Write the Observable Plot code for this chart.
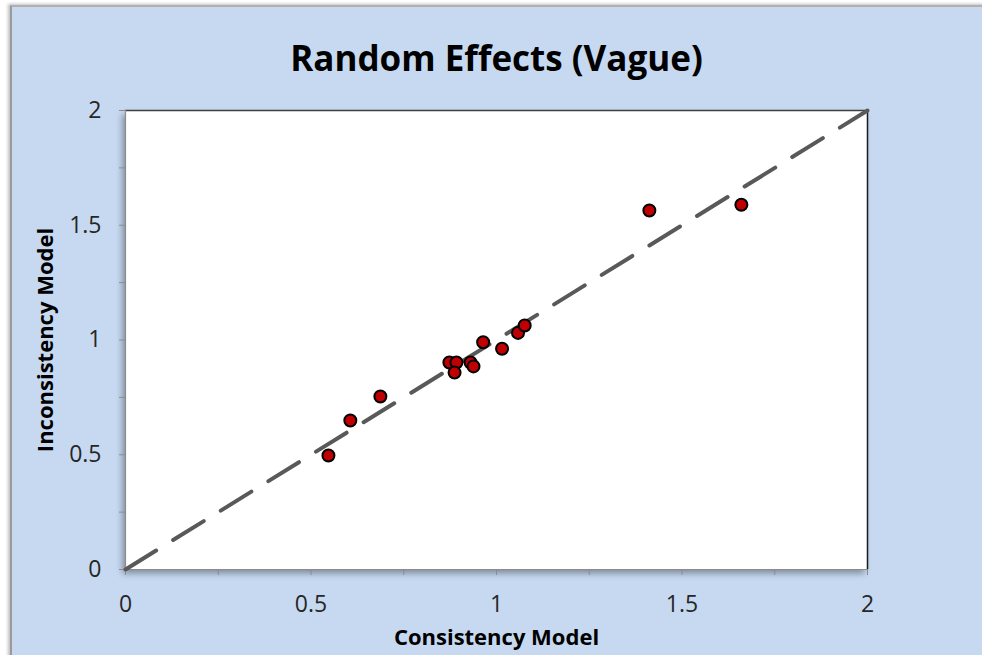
<!DOCTYPE html>
<html>
<head>
<meta charset="utf-8">
<script src="https://cdn.jsdelivr.net/npm/d3@7"></script>
<script src="https://cdn.jsdelivr.net/npm/@observablehq/plot@0.6"></script>
<style>
  html, body { margin: 0; padding: 0; background: #ffffff; }
  #wrap { position: relative; width: 982px; height: 655px; overflow: hidden; }
  #panel { position: absolute; left: 10px; top: 5px; width: 990px; height: 700px;
           background: #c6d9f1; border-left: 2px solid #9a9a9a; border-top: 2px solid #b0b0b0;
           box-shadow: -2px -1px 3px rgba(0,0,0,0.25); }
  #chart { position: absolute; left: 0; top: 0; }
  svg { font-family: "Open Sans", sans-serif; }
</style>
</head>
<body>
<div id="wrap"><div id="panel"></div><div id="chart"></div></div>
<script>
// Data
const consistency   = [0.547, 0.606, 0.687, 0.873, 0.892, 0.887, 0.930, 0.938, 0.964, 1.015, 1.058, 1.076, 1.412, 1.660];
const inconsistency = [0.497, 0.649, 0.754, 0.902, 0.902, 0.858, 0.902, 0.885, 0.990, 0.962, 1.031, 1.063, 1.564, 1.589];
const identityLine  = [0, 2];
const minorTicks    = [0, 0.25, 0.5, 0.75, 1, 1.25, 1.5, 1.75, 2];
const tickLabels    = [0, 0.5, 1, 1.5, 2];
const title  = "Random Effects (Vague)";
const xTitle = "Consistency Model";
const yTitle = "Inconsistency Model";

const points = consistency.map((c, i) => ({c, v: inconsistency[i]}));
const diag = identityLine.map(d => ({c: d, v: d}));
const fmt = d => String(d);

const chart = Plot.plot({
  width: 982,
  height: 655,
  marginLeft: 125,
  marginRight: 115,
  marginTop: 110,
  marginBottom: 86,
  style: {background: "transparent", overflow: "visible"},
  x: {domain: [0, 2], label: null},
  y: {domain: [0, 2], label: null},
  marks: [
    Plot.frame({fill: "white", stroke: null, imageFilter: "drop-shadow(-3px 4px 3px rgba(0,0,0,0.35))"}),
    Plot.ruleX([2], {stroke: "#1a1a1a", strokeWidth: 1.5}),
    Plot.ruleY([2], {stroke: "#404040", strokeWidth: 1.5}),
    Plot.ruleX([0], {stroke: "#8c8c8c", strokeWidth: 1.2}),
    Plot.ruleY([0], {stroke: "#8c8c8c", strokeWidth: 1.2}),
    Plot.axisX({ticks: minorTicks, tickSize: 6, tickFormat: () => "", stroke: "#8c8c8c"}),
    Plot.axisY({ticks: minorTicks, tickSize: 6, tickFormat: () => "", stroke: "#8c8c8c"}),
    Plot.axisX({ticks: tickLabels, tickSize: 0, tickPadding: 26, tickFormat: fmt, fontSize: 23, fill: "#262626"}),
    Plot.axisY({ticks: tickLabels, tickSize: 0, tickPadding: 24, tickFormat: fmt, fontSize: 23, fill: "#262626"}),
    Plot.line(diag, {x: "c", y: "v", stroke: "#595959", strokeWidth: 4, strokeDasharray: "36,20"}),
    Plot.dot(points, {x: "c", y: "v", r: 6, fill: "#c00000", stroke: "#000000", strokeWidth: 2}),
    Plot.text([title], {frameAnchor: "top", dy: -64, text: d => d, fontSize: 35, fontWeight: "bold", fill: "#000000"}),
    Plot.text([xTitle], {frameAnchor: "bottom", dy: 75, text: d => d, fontSize: 22, fontWeight: "bold", fill: "#000000"}),
    Plot.text([yTitle], {frameAnchor: "left", dx: -80, rotate: -90, textAnchor: "middle", text: d => d, fontSize: 22, fontWeight: "bold", fill: "#000000"})
  ]
});
document.getElementById("chart").appendChild(chart);
</script>
</body>
</html>
